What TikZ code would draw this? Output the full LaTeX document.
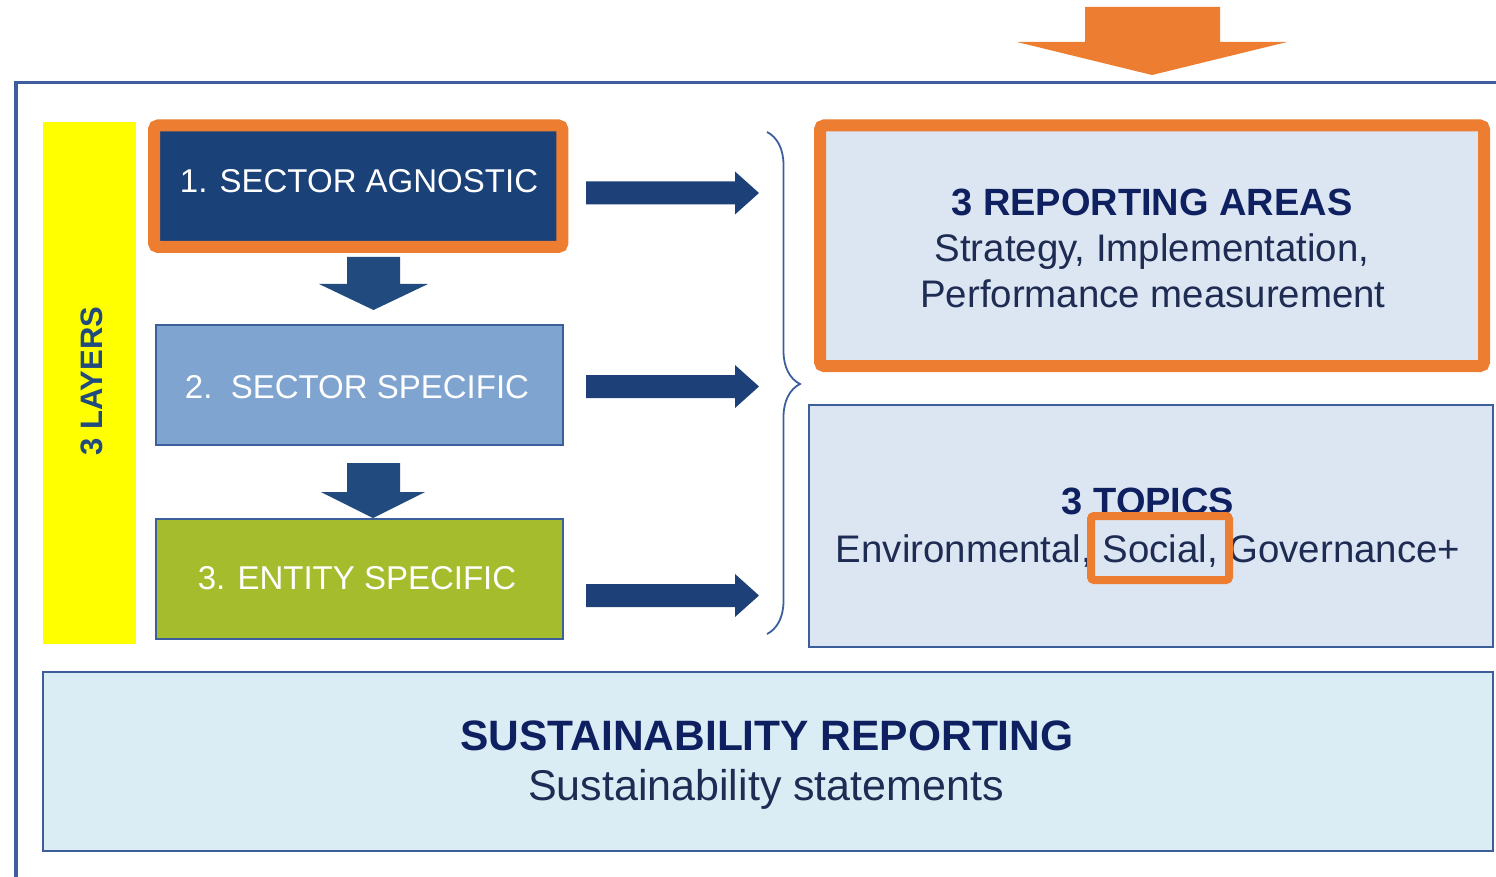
\documentclass[tikz,border=0pt]{standalone}
\usepackage{fontspec}
\setmainfont{Liberation Sans}
\usetikzlibrary{decorations.pathreplacing}
\definecolor{navybox}{HTML}{1B4179}
\definecolor{arrowblue}{HTML}{1C4077}
\definecolor{downblue}{HTML}{214A7E}
\definecolor{boxtwo}{HTML}{7FA4CF}
\definecolor{boxthree}{HTML}{A5BC2D}
\definecolor{boxline}{HTML}{3C5E9A}
\definecolor{orng}{HTML}{ED7D31}
\definecolor{lightbox}{HTML}{DCE6F2}
\definecolor{bottomfill}{HTML}{DBEDF4}
\definecolor{headtext}{HTML}{0E2060}
\definecolor{bodytext}{HTML}{1E2B52}
\definecolor{framecol}{HTML}{3C5F9B}
\definecolor{barcol}{HTML}{FFFF00}
\newcommand{\fsz}[1]{\fontsize{#1}{#1}\selectfont}
\tikzset{
  panel/.style={draw=boxline, line width=1.8pt, inner sep=0pt, anchor=north west},
  whitetxt/.style={text=white, anchor=base, inner sep=0pt, font=\fsz{33}},
  headtxt/.style={text=headtext, anchor=base, inner sep=0pt, font=\fsz{38}\bfseries},
  bodytxt/.style={text=bodytext, anchor=base, inner sep=0pt, font=\fsz{38.4}},
  blockarrow/.style={fill=arrowblue, draw=none},
  downarrow/.style={fill=downblue, draw=none},
  orangeframe/.style={draw=orng, rounded corners=4pt}
}
\begin{document}
\begin{tikzpicture}[x=1pt,y=-1pt]
\useasboundingbox (0,0) rectangle (1496,877);
% outer frame
\draw[framecol, line width=3.5pt] (16,880) -- (16,82.5) -- (1500,82.5);
% orange top arrow
\fill[orng] (1085,7) -- (1220,7) -- (1220,42) -- (1287,42) -- (1152,75) -- (1017,42) -- (1085,42) -- cycle;
% yellow bar
\node[fill=barcol, minimum width=93pt, minimum height=522pt, inner sep=0pt, anchor=north west] (layers) at (43,122) {};
\node[rotate=90, text=downblue, font=\fsz{31}\bfseries, inner sep=0pt] (layerstxt) at (91.5,381) {3 LAYERS};
% box 1
\node[fill=navybox, minimum width=408pt, minimum height=121pt, inner sep=0pt, anchor=north west] (b1) at (154,125.5) {};
\draw[orangeframe, line width=12pt] (b1.north west) rectangle (b1.south east);
\node[whitetxt] (t1) at (359,193) {1. SECTOR AGNOSTIC};
% box 2
\node[panel, fill=boxtwo, minimum width=407pt, minimum height=120pt] (b2) at (155,324) {};
\node[whitetxt] (t2) at (357,398) {2.\ \ SECTOR SPECIFIC};
% box 3
\node[panel, fill=boxthree, minimum width=407pt, minimum height=120pt] (b3) at (155,518) {};
\node[whitetxt] (t3) at (357,589) {3. ENTITY SPECIFIC};
% down arrows
\fill[downarrow] (347,257) -- (400,257) -- (400,284) -- (428,284) -- (373.5,310) -- (319,284) -- (347,284) -- cycle;
\fill[downarrow] (347,463) -- (400,463) -- (400,492) -- (425,492) -- (373,518) -- (321,492) -- (347,492) -- cycle;
% right arrows
\foreach \yc in {193,386.5,595.5}{
  \fill[blockarrow] (586,\yc-11.5) -- (735,\yc-11.5) -- (735,\yc-21.5) -- (759,\yc) -- (735,\yc+21.5) -- (735,\yc+11.5) -- (586,\yc+11.5) -- cycle;
}
% brace
\coordinate (bracetop) at (767,132);
\coordinate (bracebot) at (767,634);
\draw[framecol, line width=1.8pt, decorate, decoration={brace, amplitude=33pt, aspect=0.502}] (bracetop) -- (bracebot);
% reporting areas box
\node[panel, fill=lightbox, line width=1.5pt, minimum width=660pt, minimum height=235pt] (ra) at (822,128) {};
\draw[orangeframe, line width=12pt] (820,125.5) rectangle (1484,366);
\node[headtxt] (ra1) at (1152,216) {3 REPORTING AREAS};
\node[bodytxt] (ra2) at (1152,262) {Strategy, Implementation,};
\node[bodytxt] (ra3) at (1153,308) {Performance measurement};
% topics box
\node[panel, fill=lightbox, minimum width=684pt, minimum height=242pt] (tp) at (808,404) {};
\node[headtxt] (tp1) at (1148,514) {3 TOPICS};
\node[bodytxt] (tp2) at (1148,562) {Environmental, Social, Governance+};
\draw[orangeframe, line width=8pt, rounded corners=3pt] (1091,516) rectangle (1229,580);
% bottom box
\node[panel, fill=bottomfill, minimum width=1450pt, minimum height=179pt] (sr) at (42,671) {};
\node[text=headtext, anchor=base, inner sep=0pt, font=\fsz{42.5}\bfseries] (sr1) at (767,750) {SUSTAINABILITY REPORTING};
\node[text=bodytext, anchor=base, inner sep=0pt, font=\fsz{43}] (sr2) at (766,800) {Sustainability statements};
\end{tikzpicture}
\end{document}
